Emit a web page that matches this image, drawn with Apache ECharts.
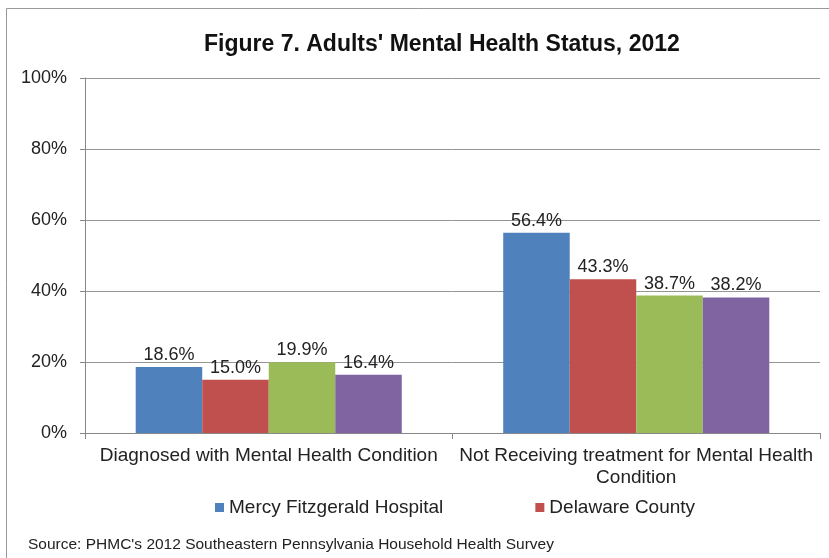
<!DOCTYPE html>
<html>
<head>
<meta charset="utf-8">
<script src="https://cdn.jsdelivr.net/npm/echarts@6/dist/echarts.min.js"></script>
<style>
  html, body { margin: 0; padding: 0; background: #fff; }
  #chart { width: 829px; height: 558px; }
</style>
</head>
<body>
<div id="chart"></div>
<script>
var categories = ['Diagnosed with Mental Health Condition', 'Not Receiving treatment for Mental Health\nCondition'];
var seriesNames = ['Mercy Fitzgerald Hospital', 'Delaware County', 'Series 3', 'Series 4'];
var mercyValues = [18.6, 56.4];
var delawareValues = [15.0, 43.3];
var series3Values = [19.9, 38.7];
var series4Values = [16.4, 38.2];
var colors = ['#4f81bd', '#c0504d', '#9bbb59', '#8064a2'];

var myChart = echarts.init(document.getElementById('chart'));
var font = '"Liberation Sans", Arial, sans-serif';

function makeSeries(name, data, color) {
    return {
        name: name,
        type: 'bar',
        data: data,
        barGap: '0%',
        barCategoryGap: '27.6%',
        itemStyle: { color: color },
        label: {
            show: true,
            position: 'top',
            distance: 3,
            color: '#222',
            fontFamily: font,
            fontSize: 18,
            formatter: function (p) { return p.value.toFixed(1) + '%'; }
        }
    };
}

var option = {
    backgroundColor: '#fff',
    animation: false,
    title: {
        text: "Figure 7. Adults' Mental Health Status, 2012",
        left: 199,
        top: 28,
        textStyle: { fontFamily: font, fontSize: 23, fontWeight: 'bold', color: '#111' }
    },
    legend: {
        data: ['Mercy Fitzgerald Hospital', 'Delaware County'],
        left: 210,
        top: 493,
        itemWidth: 9,
        itemHeight: 9,
        itemGap: 92,
        icon: 'rect',
        textStyle: { fontFamily: font, fontSize: 19, color: '#222' }
    },
    grid: { left: 85, right: 9, top: 78, bottom: 125, containLabel: false },
    xAxis: {
        type: 'category',
        data: categories,
        axisLine: { lineStyle: { color: '#888' } },
        axisTick: { show: true, length: 6, lineStyle: { color: '#888' } },
        axisLabel: { interval: 0, hideOverlap: false, fontFamily: font, fontSize: 19, color: '#222', margin: 12, lineHeight: 22 }
    },
    yAxis: {
        type: 'value',
        min: 0,
        max: 100,
        interval: 20,
        axisLine: { show: true, lineStyle: { color: '#888' } },
        axisTick: { show: true, length: 5, lineStyle: { color: '#888' } },
        splitLine: { lineStyle: { color: '#959595' } },
        axisLabel: { fontFamily: font, fontSize: 18, color: '#222', margin: 18, formatter: '{value}%' }
    },
    graphic: [{
        type: 'rect',
        shape: { x: 6.5, y: 8.5, width: 840, height: 600 },
        style: { fill: 'none', stroke: '#999', lineWidth: 1 }
    }, {
        type: 'text',
        left: 28,
        top: 537,
        style: { text: "Source: PHMC's 2012 Southeastern Pennsylvania Household Health Survey", font: '15.5px ' + font, fill: '#222' }
    }],
    series: [
        makeSeries(seriesNames[0], mercyValues, colors[0]),
        makeSeries(seriesNames[1], delawareValues, colors[1]),
        makeSeries(seriesNames[2], series3Values, colors[2]),
        makeSeries(seriesNames[3], series4Values, colors[3])
    ]
};

myChart.setOption(option);
</script>
</body>
</html>
